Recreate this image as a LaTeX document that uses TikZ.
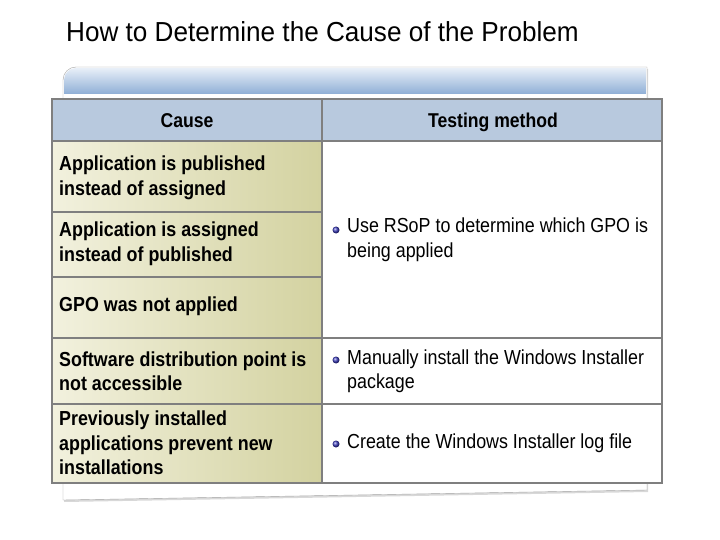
\documentclass[tikz,border=0pt]{standalone}
\usepackage{fontspec}
\setmainfont{Liberation Sans}[FakeStretch=0.88]
\newfontfamily\titlefont{Liberation Sans}[FakeStretch=0.95]
\usetikzlibrary{shadows}
\definecolor{hdr}{HTML}{B8C9DE}
\definecolor{cremL}{HTML}{F2F1DE}
\definecolor{cremR}{HTML}{D3D2A0}
\definecolor{brd}{HTML}{7F7F7F}
\definecolor{bandT}{HTML}{E8EFF8}
\definecolor{bandB}{HTML}{8FAFD6}
\begin{document}
\begin{tikzpicture}[x=1pt,y=-1pt,
  lcell/.style={draw=brd,line width=2.2pt,left color=cremL,right color=cremR},
  rcell/.style={draw=brd,line width=2.2pt,fill=white},
  hcell/.style={draw=brd,line width=2.2pt,fill=hdr},
  ltxt/.style={anchor=west,align=left,font=\bfseries\fontsize{20.3}{24.5}\selectfont,inner sep=0pt},
  rtxt/.style={anchor=west,align=left,font=\fontsize{20.3}{24.5}\selectfont,inner sep=0pt},
  htxt/.style={font=\bfseries\fontsize{20}{24}\selectfont,inner sep=0pt},
  bul/.style={circle,inner sep=0pt,minimum size=7pt,ball color=blue!50!gray}]
\useasboundingbox (0,0) rectangle (720,540);
\fill[white] (0,0) rectangle (720,540);
\node[anchor=west,font=\titlefont\fontsize{27.5}{30}\selectfont,inner sep=0pt] (title) at (66,32) {How to Determine the Cause of the Problem};
% back card
\draw[draw=gray!70,fill=white,drop shadow={shadow xshift=1pt,shadow yshift=-2pt,opacity=.3}] (63,500) -- (63,80) to[out=90,in=180] (76,67) -- (647,67) -- (647,490) -- cycle;
\shade[top color=bandT,bottom color=bandB] (64,94) -- (64,80) to[out=90,in=180] (76,68) -- (646,68) -- (646,94) -- cycle;
% header
\draw[hcell] (52,99) rectangle (322,141);
\draw[hcell] (322,99) rectangle (662,141);
\node[htxt] (hc) at (187,121) {Cause};
\node[htxt] (ht) at (493,122) {Testing method};
% left cells
\draw[lcell] (52,141) rectangle (322,212);
\draw[lcell] (52,212) rectangle (322,277);
\draw[lcell] (52,277) rectangle (322,338);
\draw[lcell] (52,338) rectangle (322,404);
\draw[lcell] (52,404) rectangle (322,483);
% right cells
\draw[rcell] (322,141) rectangle (662,338);
\draw[rcell] (322,338) rectangle (662,404);
\draw[rcell] (322,404) rectangle (662,483);
\node[ltxt] (l1) at (59,178) {Application is published\\instead of assigned};
\node[ltxt] (l2) at (59,244) {Application is assigned\\instead of published};
\node[ltxt] (l3) at (59,306) {GPO was not applied};
\node[ltxt] (l4) at (59,371) {Software distribution point is\\not accessible};
\node[ltxt] (l5) at (59,443) {Previously installed\\applications prevent new\\installations};
\node[bul] (b1) at (336,230) {};
\node[rtxt] (r1) at (347,240) {Use RSoP to determine which GPO is\\being applied};
\node[bul] (b2) at (336,360) {};
\node[rtxt] (r2) at (347,371) {Manually install the Windows Installer\\package};
\node[bul] (b3) at (336,444) {};
\node[rtxt] (r3) at (347,443) {Create the Windows Installer log file};
\end{tikzpicture}
\end{document}
